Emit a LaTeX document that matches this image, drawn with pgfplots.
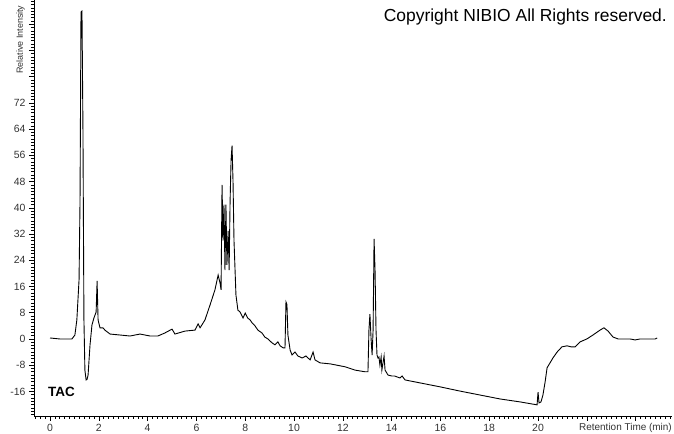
\documentclass[border=0pt]{standalone}
\usepackage{fontspec}
\setmainfont{Liberation Sans}
\usepackage{pgfplots}
\pgfplotsset{compat=1.18}
\pgfplotstableread{
x y
0.00 0.3
0.40 0.0
0.90 0.0
1.02 1.2
1.10 5.8
1.19 18
1.23 42
1.27 99.7
1.31 100
1.35 64
1.39 6
1.43 -9.5
1.48 -12.5
1.52 -12.3
1.56 -11
1.64 -1.8
1.72 4.3
1.80 6.4
1.89 8.2
1.93 17.7
1.97 5.8
2.05 3.4
2.17 3.4
2.25 2.7
2.46 1.5
2.87 1.2
3.28 0.9
3.69 1.5
4.10 0.9
4.42 0.9
4.70 1.8
5.00 3.0
5.12 1.5
5.53 2.4
5.94 2.7
6.07 4.6
6.15 3.4
6.35 5.8
6.56 10.4
6.76 15
6.89 19.5
6.97 17
7.01 15
7.05 47
7.09 30
7.13 41
7.17 21
7.21 41
7.25 22.6
7.30 33
7.34 21
7.38 42
7.42 54.6
7.46 59
7.50 48
7.54 30
7.62 13.4
7.70 8.8
7.79 8.2
7.91 6.4
8.00 7.9
8.10 6.4
8.20 5.8
8.28 4.9
8.40 4.0
8.52 2.7
8.69 1.8
8.80 0.6
8.93 0.0
9.10 -1.2
9.22 -1.8
9.34 -0.9
9.43 -2.1
9.55 -2.7
9.63 -2.7
9.67 11.3
9.71 10.5
9.75 1.2
9.84 -3.4
9.92 -4.9
10.04 -4.0
10.16 -5.2
10.33 -5.8
10.49 -5.2
10.66 -6.4
10.78 -4.0
10.86 -6.4
11.07 -7.3
11.48 -7.6
11.69 -7.9
11.89 -8.2
12.10 -8.5
12.50 -9.5
12.90 -10.0
13.03 -10.0
13.07 2.7
13.11 7.6
13.16 -0.3
13.20 -4.9
13.24 2.7
13.28 30.5
13.32 21
13.36 2.7
13.40 -4.9
13.44 -5.8
13.48 -5.5
13.52 -8.0
13.57 -5.5
13.60 -9.5
13.69 -5.2
13.73 -9.5
13.85 -11.0
14.00 -11.3
14.12 -11.3
14.34 -11.9
14.43 -11.3
14.55 -12.5
15.16 -13.4
15.98 -14.6
16.80 -15.9
17.62 -17.1
18.44 -18.3
19.26 -19.2
19.96 -20.1
20.00 -16.2
20.04 -19.5
20.12 -19.2
20.20 -17.1
20.29 -13.1
20.37 -8.8
20.49 -7.3
20.61 -5.8
20.78 -4.0
20.98 -2.4
21.19 -2.1
21.35 -2.4
21.52 -2.4
21.72 -0.9
22.00 0.0
22.25 1.2
22.54 2.7
22.70 3.4
22.87 2.4
23.07 0.6
23.28 0.0
23.77 0.0
23.98 -0.3
24.18 0.0
24.80 0.0
24.88 0.3
}\tac
\begin{document}
\begin{tikzpicture}[x=1bp,y=1bp]
\path[use as bounding box] (-34,-18) rectangle (640,416);
\begin{axis}[
  at={(0,0)}, anchor=south west,
  scale only axis, width=638bp, height=416bp,
  xmin=-0.656, xmax=25.49, ymin=-23.5, ymax=103.4,
  axis x line*=bottom, axis y line*=left,
  axis line style={-, black, line width=0.8bp},
  tick align=outside,
  xtick={0,2,...,24},
  xticklabels={0,2,4,6,8,10,12,14,16,18,20,{},{}},
  ytick={-16,-8,...,96},
  yticklabels={-16,-8,0,8,16,24,32,40,48,56,64,72,{},{},{}},
  minor xtick={-0.6,-0.4,...,25.4},
  minor ytick={-23,-22,...,103},
  major tick length=5bp, minor tick length=3bp,
  tick style={black, line width=0.6bp},
  ticklabel style={font=\fontsize{10.5}{12}\selectfont, text=black!80},
  clip=false,
]
\addplot[black, line width=0.9bp, mark=none] table[x=x, y=y] {\tac};
\end{axis}
\node[anchor=base east, inner sep=0, font=\fontsize{17.5}{20}\selectfont] at (633,394) {Copyright NIBIO All Rights reserved.};
\node[anchor=base west, inner sep=0, font=\fontsize{13.5}{15}\selectfont\bfseries] at (14,19) {TAC};
\node[anchor=base east, inner sep=0, font=\fontsize{10}{12}\selectfont, text=black!80] at (638,-15) {Retention Time (min)};
\node[anchor=base west, inner sep=0, rotate=90, font=\fontsize{9}{11}\selectfont, text=black!80] at (-11,342) {Relative Intensity};
\end{tikzpicture}
\end{document}
